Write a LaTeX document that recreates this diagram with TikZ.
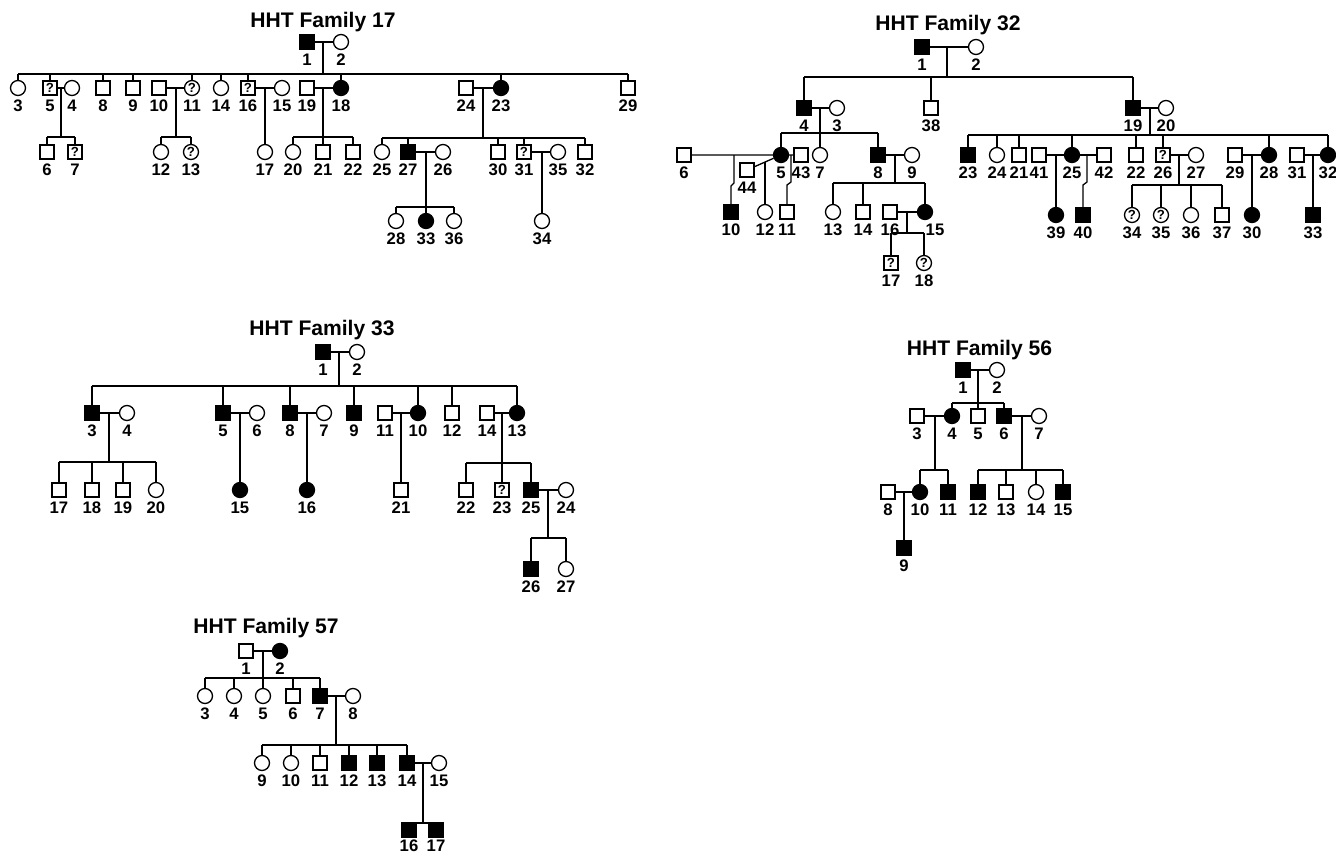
\documentclass[tikz,border=0pt]{standalone}
\usepackage{fontspec}
\setmainfont{Liberation Sans}
\tikzset{
  man/.style={draw, rectangle, minimum size=0.28cm, inner sep=0pt},
  woman/.style={draw, circle, minimum size=0.3cm, inner sep=0pt},
  aman/.style={man, fill=black},
  awoman/.style={woman, fill=black},
  qman/.style={man, label={[qm]center:?}},
  qwoman/.style={woman, label={[qm]center:?}},
  lab/.style={font=\fontsize{9.5}{10}\selectfont\bfseries, inner sep=0pt},
  qm/.style={font=\fontsize{7.5}{8}\selectfont\bfseries, inner sep=0pt},
  ttl/.style={font=\fontsize{12}{14}\selectfont\bfseries, anchor=base, inner sep=0pt}
}
\begin{document}
\begin{tikzpicture}[x=0.02cm, y=-0.02cm, line width=0.75pt, label distance=2pt]
  \useasboundingbox (0,0) rectangle (1336,853);

  % ---------------- Family 17 ----------------
  \node[ttl] (t17) at (323,27) {HHT Family 17};
  \foreach \n/\x/\s in {1/307/aman, 2/341/woman}
    \node[\s, label={[lab]below:\n}] (a\n) at (\x,42) {};
  \foreach \n/\x/\s in {3/18/woman, 5/50/qman, 4/72/woman, 8/103/man, 9/133/man,
      10/159/man, 11/192/qwoman, 14/221/woman, 16/248/qman, 15/282/woman,
      19/307/man, 18/341/awoman, 24/466/man, 23/501/awoman, 29/628/man}
    \node[\s, label={[lab]below:\n}] (a\n) at (\x,88) {};
  \foreach \n/\x/\s in {6/47/man, 7/75/qman, 12/161/woman, 13/191/qwoman,
      17/265/woman, 20/293/woman, 21/323/man, 22/353/man, 25/382/woman,
      27/408/aman, 26/443/woman, 30/498/man, 31/524/qman, 35/558/woman, 32/585/man}
    \node[\s, label={[lab]below:\n}] (a\n) at (\x,152) {};
  \foreach \n/\x/\s in {28/396/woman, 33/426/awoman, 36/454/woman, 34/542/woman}
    \node[\s, label={[lab]below:\n}] (a\n) at (\x,221) {};

  \coordinate (a1x2) at (323,42);    \coordinate (a1x2s) at (323,74);
  \coordinate (a5x4) at (61,88);     \coordinate (a5x4s) at (61,137);
  \coordinate (a10x11) at (176,88);  \coordinate (a10x11s) at (176,137);
  \coordinate (a16x15) at (265,88);
  \coordinate (a19x18) at (323,88);  \coordinate (a19x18s) at (323,137);
  \coordinate (a24x23) at (483,88);  \coordinate (a24x23s) at (483,138);
  \coordinate (a27x26) at (426,152); \coordinate (a27x26s) at (426,207);
  \coordinate (a31x35) at (542,152);

  \draw (a1) -- (a2) (a1x2) -- (a1x2s) (a3 |- a1x2s) -- (a29 |- a1x2s);
  \foreach \c in {3,5,8,9,11,14,16,18,23,29}
    \draw (a\c) -- (a\c |- a1x2s);
  \draw (a5) -- (a4) (a10) -- (a11) (a16) -- (a15) (a19) -- (a18) (a24) -- (a23);
  \draw (a5x4) -- (a5x4s) (a6 |- a5x4s) -- (a7 |- a5x4s);
  \foreach \c in {6,7} \draw (a\c) -- (a\c |- a5x4s);
  \draw (a10x11) -- (a10x11s) (a12 |- a10x11s) -- (a13 |- a10x11s);
  \foreach \c in {12,13} \draw (a\c) -- (a\c |- a10x11s);
  \draw (a16x15) -- (a17);
  \draw (a19x18) -- (a19x18s) (a20 |- a19x18s) -- (a22 |- a19x18s);
  \foreach \c in {20,21,22} \draw (a\c) -- (a\c |- a19x18s);
  \draw (a24x23) -- (a24x23s) (a25 |- a24x23s) -- (a32 |- a24x23s);
  \foreach \c in {25,27,30,31,32} \draw (a\c) -- (a\c |- a24x23s);
  \draw (a27) -- (a26) (a31) -- (a35);
  \draw (a27x26) -- (a27x26s) (a28 |- a27x26s) -- (a36 |- a27x26s);
  \foreach \c in {28,33,36} \draw (a\c) -- (a\c |- a27x26s);
  \draw (a31x35) -- (a34);

  % ---------------- Family 32 ----------------
  \node[ttl] (t32) at (948,30.5) {HHT Family 32};
  \foreach \n/\x/\s in {1/922/aman, 2/976/woman}
    \node[\s, label={[lab]below:\n}] (b\n) at (\x,47) {};
  \foreach \n/\x/\s in {4/804/aman, 3/837/woman, 38/931/man, 19/1133/aman, 20/1166/woman}
    \node[\s, label={[lab]below:\n}] (b\n) at (\x,108) {};
  \foreach \n/\x/\s in {6/684/man, 5/781/awoman, 43/801/man, 7/820/woman,
      8/878/aman, 9/912/woman, 23/968/aman, 24/997/woman, 21/1019/man,
      41/1039/man, 25/1072/awoman, 42/1104/man, 22/1136/man, 26/1163/qman,
      27/1196/woman, 29/1235/man, 28/1269/awoman, 31/1297/man, 32/1328/awoman}
    \node[\s, label={[lab]below:\n}] (b\n) at (\x,155) {};
  \node[man, label={[lab]below:44}] (b44) at (747,170) {};
  \foreach \n/\x/\s in {10/731/aman, 12/765/woman, 11/787/man, 13/833/woman,
      14/863/man, 16/890/man}
    \node[\s, label={[lab]below:\n}] (b\n) at (\x,212) {};
  \node[awoman, label={[lab, xshift=0.2cm]below:15}] (b15) at (925,212) {};
  \foreach \n/\x/\s in {39/1056/awoman, 40/1083/aman, 34/1132/qwoman,
      35/1161/qwoman, 36/1191/woman, 37/1222/man, 30/1252/awoman, 33/1313/aman}
    \node[\s, label={[lab]below:\n}] (b\n) at (\x,215) {};
  \foreach \n/\x/\s in {17/891/qman, 18/924/qwoman}
    \node[\s, label={[lab]below:\n}] (b\n) at (\x,263) {};

  \coordinate (b1x2) at (947,47);      \coordinate (b1x2s) at (947,77);
  \coordinate (b4x3) at (820,108);     \coordinate (b4x3s) at (820,133);
  \coordinate (b19x20) at (1150,108);  \coordinate (b19x20s) at (1150,135);
  \coordinate (b6x5) at (734,155);
  \coordinate (b44x5) at (765,162);
  \coordinate (b5x43) at (791,155);
  \coordinate (b8x9) at (895,155);     \coordinate (b8x9s) at (895,183);
  \coordinate (b16x15) at (907,212);   \coordinate (b16x15s) at (907,233);
  \coordinate (b41x25) at (1056,155);
  \coordinate (b25x42) at (1087,155);
  \coordinate (b26x27) at (1179,155);  \coordinate (b26x27s) at (1179,185);
  \coordinate (b29x28) at (1252,155);
  \coordinate (b31x32) at (1313,155);

  \draw (b1) -- (b2) (b1x2) -- (b1x2s) (b4 |- b1x2s) -- (b19 |- b1x2s);
  \foreach \c in {4,38,19} \draw (b\c) -- (b\c |- b1x2s);
  \draw (b4) -- (b3) (b4x3) -- (b4x3s) (b5 |- b4x3s) -- (b8 |- b4x3s);
  \foreach \c in {5,7,8} \draw (b\c) -- (b\c |- b4x3s);
  \draw (b19) -- (b20) (b19x20) -- (b19x20s) (b23 |- b19x20s) -- (b32 |- b19x20s);
  \foreach \c in {23,24,21,25,22,26,28,32} \draw (b\c) -- (b\c |- b19x20s);
  % marriages of 5
  \draw (b6) -- (b5) (b44) -- (b5) (b5) -- (b43);
  \draw (b6x5) -- ++(0,28) -- ++(-3,3) -- (b10);
  \draw (b44x5) -- (b12);
  \draw (b5x43) -- ++(0,27) -- ++(-4,3) -- (b11);
  \draw (b8) -- (b9) (b8x9) -- (b8x9s) (b13 |- b8x9s) -- (b15 |- b8x9s);
  \foreach \c in {13,14,15} \draw (b\c) -- (b\c |- b8x9s);
  \draw (b16) -- (b15) (b16x15) -- (b16x15s) (b17 |- b16x15s) -- (b18 |- b16x15s);
  \foreach \c in {17,18} \draw (b\c) -- (b\c |- b16x15s);
  % children of 19 and 20
  \draw (b41) -- (b25) (b25) -- (b42) (b26) -- (b27) (b29) -- (b28) (b31) -- (b32);
  \draw (b41x25) -- (b39);
  \draw (b25x42) -- ++(0,27) -- ++(-4,3) -- (b40);
  \draw (b26x27) -- (b26x27s) (b34 |- b26x27s) -- (b37 |- b26x27s);
  \foreach \c in {34,35,36,37} \draw (b\c) -- (b\c |- b26x27s);
  \draw (b29x28) -- (b30) (b31x32) -- (b33);

  % ---------------- Family 33 ----------------
  \node[ttl] (t33) at (322,335) {HHT Family 33};
  \foreach \n/\x/\s in {1/323/aman, 2/357/woman}
    \node[\s, label={[lab]below:\n}] (c\n) at (\x,352) {};
  \foreach \n/\x/\s in {3/92/aman, 4/127/woman, 5/223/aman, 6/257/woman,
      8/290/aman, 7/324/woman, 9/354/aman, 11/385/man, 10/418/awoman,
      12/452/man, 14/487/man, 13/517/awoman}
    \node[\s, label={[lab]below:\n}] (c\n) at (\x,413) {};
  \foreach \n/\x/\s in {17/59/man, 18/92/man, 19/123/man, 20/156/woman,
      15/240/awoman, 16/307/awoman, 21/401/man, 22/466/man, 23/502/qman,
      25/531/aman, 24/566/woman}
    \node[\s, label={[lab]below:\n}] (c\n) at (\x,490) {};
  \foreach \n/\x/\s in {26/531/aman, 27/566/woman}
    \node[\s, label={[lab]below:\n}] (c\n) at (\x,569) {};

  \coordinate (c1x2) at (339,352);    \coordinate (c1x2s) at (339,386);
  \coordinate (c3x4) at (109,413);    \coordinate (c3x4s) at (109,462);
  \coordinate (c5x6) at (240,413);
  \coordinate (c8x7) at (307,413);
  \coordinate (c11x10) at (401,413);
  \coordinate (c14x13) at (502,413);  \coordinate (c14x13s) at (502,463);
  \coordinate (c25x24) at (548,490);  \coordinate (c25x24s) at (548,538);

  \draw (c1) -- (c2) (c1x2) -- (c1x2s) (c3 |- c1x2s) -- (c13 |- c1x2s);
  \foreach \c in {3,5,8,9,10,12,13} \draw (c\c) -- (c\c |- c1x2s);
  \draw (c3) -- (c4) (c5) -- (c6) (c8) -- (c7) (c11) -- (c10) (c14) -- (c13);
  \draw (c3x4) -- (c3x4s) (c17 |- c3x4s) -- (c20 |- c3x4s);
  \foreach \c in {17,18,19,20} \draw (c\c) -- (c\c |- c3x4s);
  \draw (c5x6) -- (c15) (c8x7) -- (c16) (c11x10) -- (c21);
  \draw (c14x13) -- (c14x13s) (c22 |- c14x13s) -- (c25 |- c14x13s);
  \foreach \c in {22,23,25} \draw (c\c) -- (c\c |- c14x13s);
  \draw (c25) -- (c24) (c25x24) -- (c25x24s) (c26 |- c25x24s) -- (c27 |- c25x24s);
  \foreach \c in {26,27} \draw (c\c) -- (c\c |- c25x24s);

  % ---------------- Family 56 ----------------
  \node[ttl] (t56) at (979.5,355) {HHT Family 56};
  \foreach \n/\x/\s in {1/963/aman, 2/997/woman}
    \node[\s, label={[lab]below:\n}] (d\n) at (\x,370) {};
  \foreach \n/\x/\s in {3/917/man, 4/952/awoman, 5/978/man, 6/1004/aman, 7/1039/woman}
    \node[\s, label={[lab]below:\n}] (d\n) at (\x,416) {};
  \foreach \n/\x/\s in {8/888/man, 10/920/awoman, 11/948/aman, 12/978/aman,
      13/1006/man, 14/1036/woman, 15/1063/aman}
    \node[\s, label={[lab]below:\n}] (d\n) at (\x,492) {};
  \node[aman, label={[lab]below:9}] (d9) at (904,548) {};

  \coordinate (d1x2) at (978,370);   \coordinate (d1x2s) at (978,403);
  \coordinate (d3x4) at (935,416);   \coordinate (d3x4s) at (935,470);
  \coordinate (d6x7) at (1022,416);  \coordinate (d6x7s) at (1022,470);
  \coordinate (d8x10) at (904,492);

  \draw (d1) -- (d2) (d1x2) -- (d1x2s) (d4 |- d1x2s) -- (d6 |- d1x2s);
  \foreach \c in {4,5,6} \draw (d\c) -- (d\c |- d1x2s);
  \draw (d3) -- (d4) (d3x4) -- (d3x4s) (d10 |- d3x4s) -- (d11 |- d3x4s);
  \foreach \c in {10,11} \draw (d\c) -- (d\c |- d3x4s);
  \draw (d6) -- (d7) (d6x7) -- (d6x7s) (d12 |- d6x7s) -- (d15 |- d6x7s);
  \foreach \c in {12,13,14,15} \draw (d\c) -- (d\c |- d6x7s);
  \draw (d8) -- (d10) (d8x10) -- (d9);

  % ---------------- Family 57 ----------------
  \node[ttl] (t57) at (266,633) {HHT Family 57};
  \foreach \n/\x/\s in {1/246/man, 2/280/awoman}
    \node[\s, label={[lab]below:\n}] (e\n) at (\x,651) {};
  \foreach \n/\x/\s in {3/205/woman, 4/234/woman, 5/263/woman, 6/293/man,
      7/320/aman, 8/353/woman}
    \node[\s, label={[lab]below:\n}] (e\n) at (\x,696) {};
  \foreach \n/\x/\s in {9/262/woman, 10/291/woman, 11/320/man, 12/349/aman,
      13/377/aman, 14/407/aman, 15/439/woman}
    \node[\s, label={[lab]below:\n}] (e\n) at (\x,763) {};
  \foreach \n/\x/\s in {16/409/aman, 17/436/aman}
    \node[\s, label={[lab, yshift=0.03cm]below:\n}] (e\n) at (\x,830) {};

  \coordinate (e1x2) at (263,651);    \coordinate (e1x2s) at (263,678);
  \coordinate (e7x8) at (336,696);    \coordinate (e7x8s) at (336,745);
  \coordinate (e14x15) at (423,763);  \coordinate (e14x15s) at (423,823);

  \draw (e1) -- (e2) (e1x2) -- (e1x2s) (e3 |- e1x2s) -- (e7 |- e1x2s);
  \foreach \c in {3,4,5,6,7} \draw (e\c) -- (e\c |- e1x2s);
  \draw (e7) -- (e8) (e7x8) -- (e7x8s) (e9 |- e7x8s) -- (e14 |- e7x8s);
  \foreach \c in {9,10,11,12,13,14} \draw (e\c) -- (e\c |- e7x8s);
  \draw (e14) -- (e15) (e14x15) -- (e14x15s) (e16 |- e14x15s) -- (e17 |- e14x15s);
\end{tikzpicture}
\end{document}
